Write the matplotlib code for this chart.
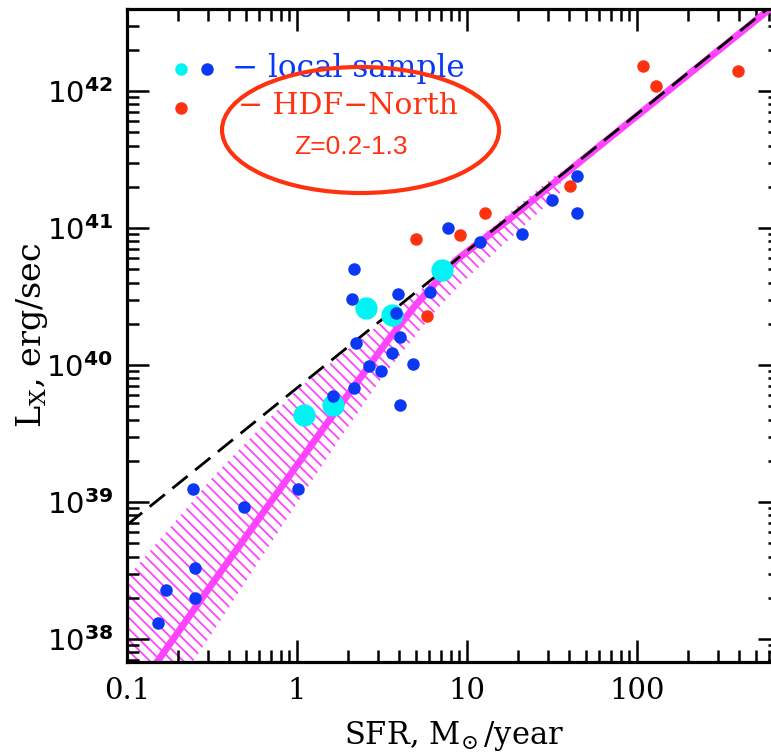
import numpy as np
import matplotlib
matplotlib.use("Agg")
import matplotlib.pyplot as plt
from matplotlib.patches import Ellipse
from matplotlib.ticker import LogLocator, NullFormatter

plt.rcParams['mathtext.fontset'] = 'custom'
plt.rcParams['mathtext.rm'] = 'DejaVu Serif'
plt.rcParams['mathtext.sf'] = 'DejaVu Sans'
plt.rcParams['mathtext.bf'] = 'DejaVu Sans:bold'
plt.rcParams['hatch.linewidth'] = 1.3
plt.rcParams['hatch.color'] = '#ff44ff'

BLUE = '#0a38f5'
CYAN = '#00f4f4'
RED = '#ff3210'
MAGENTA = '#ff44ff'

# local galaxies, small dots
local_sfr = [0.152, 0.170, 0.252, 0.252, 0.243, 0.485, 1.01, 1.62, 2.16, 2.65,
             3.13, 3.64, 2.21, 4.81, 4.04, 4.04, 3.84, 3.94, 2.12, 2.16,
             6.06, 7.76, 11.9, 21.0, 31.8, 44.2, 44.6]
local_lx = [1.31e38, 2.28e38, 1.99e38, 3.3e38, 1.24e39, 9.2e38, 1.24e39, 5.97e39, 6.76e39, 9.8e39,
            9.1e39, 1.22e40, 1.44e40, 1.02e40, 5.1e39, 1.61e40, 2.41e40, 3.28e40, 3.05e40, 5.0e40,
            3.43e40, 1.0e41, 7.94e40, 9.04e40, 1.6e41, 1.29e41, 2.4e41]

# local galaxies, big dots
big_sfr = [1.10, 1.62, 2.53, 3.64, 7.10]
big_lx = [4.32e39, 5.08e39, 2.59e40, 2.32e40, 4.94e40]

# HDF-North galaxies
hdf_sfr = [4.99, 5.84, 9.09, 12.8, 40.1, 109, 129, 393]
hdf_lx = [8.27e40, 2.27e40, 8.9e40, 1.29e41, 2.03e41, 1.53e42, 1.09e42, 1.41e42]

# L_X - SFR relation
model_sfr = [0.14, 0.30, 0.72, 1.5, 3.4, 5.0, 8.6, 18.5, 50, 700]
model_lx = [6.0e37, 2.3e38, 1.05e39, 3.75e39, 1.5e40, 2.75e40, 5.8e40, 1.21e41, 3.3e41, 4.6e42]

# linear relation
lin_sfr = [0.1, 700]
lin_lx = [6.8e38, 4.76e42]

# spread of the relation
band_sfr = [0.1, 0.241, 0.316, 1.0, 1.77, 3.16, 6.55, 9.38, 18.5, 35.5]
band_hi = [2.8e38, 1.0e39, 1.5e39, 6.6e39, 1.16e40, 2.05e40, 4.4e40, 6.6e40, 1.35e41, 2.6e41]
band_lo = [1.3e37, 6.7e37, 1.1e38, 9.8e38, 2.84e39, 8.1e39, 2.5e40, 4.0e40, 8.7e40, 1.82e41]

xticks = [0.1, 1, 10, 100]
xticklabels = ['0.1', '1', '10', '100']
yticks = [1e38, 1e39, 1e40, 1e41, 1e42]
yticklabels = [r'$\mathsf{10}^{\mathbf{%d}}$' % p for p in [38, 39, 40, 41, 42]]

fig = plt.figure(figsize=(7.71, 7.53), dpi=100)
ax = fig.add_axes([127 / 771, 1 - 662 / 753, 653 / 771, 653 / 753])
ax.set_xscale('log')
ax.set_yscale('log')
ax.set_xlim(0.1, 10 ** 2.841)
ax.set_ylim(10 ** 37.832, 10 ** 42.599)

ax.fill_between(band_sfr, band_lo, band_hi, facecolor='none', edgecolor=MAGENTA,
                hatch='\\\\\\', linewidth=0, zorder=1)
ax.plot(model_sfr, model_lx, color=MAGENTA, lw=5, solid_capstyle='butt', zorder=2)
ax.plot(lin_sfr, lin_lx, color='black', lw=2, dashes=(7, 3.5), zorder=3)

ax.plot(local_sfr, local_lx, 'o', color=BLUE, ms=9, mew=0, zorder=5)
ax.plot(big_sfr, big_lx, 'o', color=CYAN, ms=16, mew=0, zorder=4)
ax.plot(hdf_sfr, hdf_lx, 'o', color=RED, ms=9, mew=0, zorder=5)

# legend
ax.plot([0.083], [0.908], 'o', color=CYAN, ms=9, mew=0, transform=ax.transAxes)
ax.plot([0.1225], [0.908], 'o', color=BLUE, ms=9, mew=0, transform=ax.transAxes)
ax.plot([0.083], [0.848], 'o', color=RED, ms=9, mew=0, transform=ax.transAxes)
ax.text(0.161, 0.909, '\u2212 local sample', color=BLUE, fontsize=22.5, family='DejaVu Serif',
        va='center', ha='left', transform=ax.transAxes)
ax.text(0.170, 0.852, '\u2212 HDF\u2212North', color=RED, fontsize=21.5, family='DejaVu Serif',
        va='center', ha='left', transform=ax.transAxes)
ax.text(0.343, 0.789, 'Z=0.2-1.3', color=RED, fontsize=19, family='Liberation Sans',
        va='center', ha='center', transform=ax.transAxes)
ax.add_patch(Ellipse((0.3576, 0.8147), 0.4242, 0.193, transform=ax.transAxes,
                     fill=False, edgecolor=RED, lw=3, zorder=6))

ax.set_xticks(xticks)
ax.set_xticklabels(xticklabels, family='DejaVu Serif', fontsize=21)
ax.set_yticks(yticks)
ax.set_yticklabels(yticklabels, fontsize=21)
ax.xaxis.set_minor_locator(LogLocator(base=10, subs=np.arange(2, 10)))
ax.yaxis.set_minor_locator(LogLocator(base=10, subs=np.arange(2, 10)))
ax.xaxis.set_minor_formatter(NullFormatter())
ax.yaxis.set_minor_formatter(NullFormatter())
ax.tick_params(which='both', direction='in', top=True, right=True, width=1.8, color='black')
ax.tick_params(which='major', length=16)
ax.tick_params(which='minor', length=8.5)
ax.tick_params(axis='x', which='major', pad=11)
ax.tick_params(axis='y', which='major', pad=10)
for s in ax.spines.values():
    s.set_linewidth(2.3)

ax.set_xlabel(r'SFR, M$_{\!\odot}$/year', family='DejaVu Serif', fontsize=22, labelpad=10)
ax.set_ylabel(r'L$_{\rm X}$, erg/sec', family='DejaVu Serif', fontsize=24)
ax.yaxis.set_label_coords(-0.118, 0.5)

fig.savefig('out.png', dpi=100)
